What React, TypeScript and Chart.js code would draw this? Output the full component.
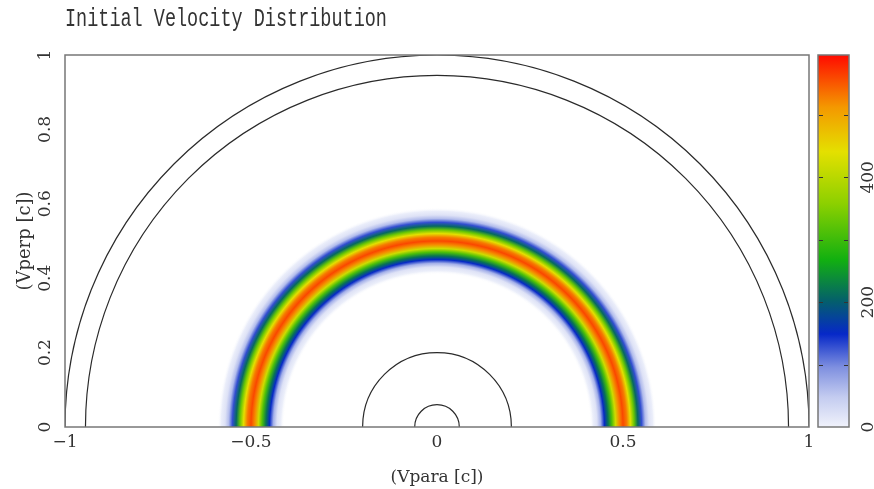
import React, { useEffect, useRef } from 'react';
import { Chart, registerables } from 'chart.js';

Chart.register(...registerables);

const TITLE = 'Initial Velocity Distribution';
const X_LABEL = '(Vpara [c])';
const Y_LABEL = '(Vperp [c])';

// radial profile of the ring (|v| in units of c) and its counts
const ringRadii = [0.41, 0.42, 0.43, 0.44, 0.45, 0.46, 0.47, 0.48, 0.49, 0.50, 0.51, 0.52, 0.53, 0.54, 0.55, 0.56, 0.57, 0.58, 0.59];
const ringCounts = [0, 4, 20, 70, 150, 220, 310, 420, 520, 560, 530, 440, 330, 210, 130, 60, 20, 5, 0];

// reference circles
const circleRadii = [1.0, 0.945, 0.2, 0.06];

const xTicks = [-1, -0.5, 0, 0.5, 1];
const yTicks = [0, 0.2, 0.4, 0.6, 0.8, 1];

const colorbarMax = 596;
const colorbarTicks = [100, 200, 300, 400, 500];
const colorbarLabels = [0, 200, 400];

const cmapPos = [0, 0.08, 0.16, 0.25, 0.34, 0.45, 0.6, 0.74, 0.86, 1];
const cmapColors = ['#f0f2fb', '#c4ccf0', '#7f90e0', '#0628c8', '#04606a', '#12b010', '#8cd000', '#e4e000', '#f49800', '#ff0a00'];

function hexToRgb(h: string) {
  return [parseInt(h.slice(1, 3), 16), parseInt(h.slice(3, 5), 16), parseInt(h.slice(5, 7), 16)];
}

function colorFor(f: number) {
  if (f <= 0) return 'rgba(255,255,255,0)';
  if (f >= 1) return cmapColors[cmapColors.length - 1];
  for (let i = 0; i < cmapPos.length - 1; i++) {
    if (f >= cmapPos[i] && f <= cmapPos[i + 1]) {
      const t = (f - cmapPos[i]) / (cmapPos[i + 1] - cmapPos[i]);
      const a = hexToRgb(cmapColors[i]);
      const b = hexToRgb(cmapColors[i + 1]);
      const c = a.map((v, k) => Math.round(v + (b[k] - v) * t));
      return `rgb(${c[0]},${c[1]},${c[2]})`;
    }
  }
  return cmapColors[0];
}

const fmt = (v: number) => (v < 0 ? '\u2212' + String(-v) : String(v));

const TEXT = '#333';
const LABEL_FONT = "17px 'DejaVu Serif'";

const heatPlugin = {
  id: 'heat',
  beforeDatasetsDraw(chart: any) {
    const { ctx, chartArea, scales } = chart;
    const xs = scales.x;
    const ys = scales.y;
    const cx = xs.getPixelForValue(0);
    const cy = ys.getPixelForValue(0);
    const pr = (r: number) => xs.getPixelForValue(r) - cx;
    ctx.save();
    ctx.beginPath();
    ctx.rect(chartArea.left, chartArea.top, chartArea.right - chartArea.left, chartArea.bottom - chartArea.top);
    ctx.clip();
    const r0 = pr(ringRadii[0]);
    const r1 = pr(ringRadii[ringRadii.length - 1]);
    const g = ctx.createRadialGradient(cx, cy, r0, cx, cy, r1);
    ringRadii.forEach((r, i) => {
      g.addColorStop((pr(r) - r0) / (r1 - r0), colorFor(ringCounts[i] / colorbarMax));
    });
    ctx.fillStyle = g;
    ctx.beginPath();
    ctx.arc(cx, cy, r1, Math.PI, 2 * Math.PI);
    ctx.arc(cx, cy, r0, 2 * Math.PI, Math.PI, true);
    ctx.closePath();
    ctx.fill();

    ctx.strokeStyle = '#2a2a2a';
    ctx.lineWidth = 1.2;
    circleRadii.forEach((r) => {
      ctx.beginPath();
      ctx.arc(cx, cy, pr(r), Math.PI, 2 * Math.PI);
      ctx.stroke();
    });
    ctx.restore();
  },
  afterDraw(chart: any) {
    const { ctx, chartArea, scales } = chart;
    const xs = scales.x;
    const ys = scales.y;
    const cb = scales.cb;
    ctx.save();
    // frame
    ctx.strokeStyle = '#777';
    ctx.lineWidth = 1.5;
    ctx.strokeRect(chartArea.left, chartArea.top, chartArea.right - chartArea.left, chartArea.bottom - chartArea.top);

    // title
    ctx.save();
    ctx.fillStyle = TEXT;
    ctx.font = "18.5px 'Liberation Mono'";
    ctx.textAlign = 'left';
    ctx.textBaseline = 'middle';
    ctx.translate(chartArea.left, 19);
    ctx.scale(1, 1.35);
    ctx.fillText(TITLE, 0, 0);
    ctx.restore();

    ctx.fillStyle = TEXT;
    ctx.font = LABEL_FONT;
    // x tick labels
    ctx.textAlign = 'center';
    ctx.textBaseline = 'middle';
    xTicks.forEach((v) => {
      ctx.fillText(fmt(v), xs.getPixelForValue(v), chartArea.bottom + 16);
    });
    // x axis title
    ctx.fillText(X_LABEL, (chartArea.left + chartArea.right) / 2, chartArea.bottom + 51);

    // y tick labels (rotated)
    yTicks.forEach((v) => {
      ctx.save();
      ctx.translate(chartArea.left - 19, ys.getPixelForValue(v));
      ctx.rotate(-Math.PI / 2);
      ctx.fillText(fmt(v), 0, 0);
      ctx.restore();
    });
    // y axis title
    ctx.save();
    ctx.font = "18px 'DejaVu Serif'";
    ctx.translate(chartArea.left - 40, (chartArea.top + chartArea.bottom) / 2);
    ctx.rotate(-Math.PI / 2);
    ctx.fillText(Y_LABEL, 0, 0);
    ctx.restore();

    // colorbar
    const bl = chartArea.right + 9;
    const bw = 31;
    const bTop = cb.getPixelForValue(colorbarMax);
    const bBot = cb.getPixelForValue(0);
    const lg = ctx.createLinearGradient(0, bBot, 0, bTop);
    cmapPos.forEach((p, i) => lg.addColorStop(p, cmapColors[i]));
    ctx.fillStyle = lg;
    ctx.fillRect(bl, bTop, bw, bBot - bTop);
    ctx.strokeStyle = '#777';
    ctx.lineWidth = 1.5;
    ctx.strokeRect(bl, bTop, bw, bBot - bTop);
    ctx.strokeStyle = '#333';
    ctx.lineWidth = 1;
    colorbarTicks.forEach((v) => {
      const y = Math.round(cb.getPixelForValue(v)) + 0.5;
      ctx.beginPath();
      ctx.moveTo(bl + 1, y);
      ctx.lineTo(bl + 5, y);
      ctx.moveTo(bl + bw - 5, y);
      ctx.lineTo(bl + bw - 1, y);
      ctx.stroke();
    });
    ctx.fillStyle = TEXT;
    ctx.font = LABEL_FONT;
    colorbarLabels.forEach((v) => {
      ctx.save();
      ctx.translate(bl + bw + 20, cb.getPixelForValue(v));
      ctx.rotate(-Math.PI / 2);
      ctx.textAlign = 'center';
      ctx.textBaseline = 'middle';
      ctx.fillText(String(v), 0, 0);
      ctx.restore();
    });
    ctx.restore();
  },
};

export default function App() {
  const ref = useRef<HTMLCanvasElement>(null);
  useEffect(() => {
    const chart = new Chart(ref.current as HTMLCanvasElement, {
      type: 'scatter',
      data: { datasets: [] },
      options: {
        animation: false,
        responsive: true,
        maintainAspectRatio: false,
        events: [],
        layout: { padding: { left: 65, top: 55, right: 65, bottom: 62 } },
        plugins: { legend: { display: false }, tooltip: { enabled: false }, title: { display: false } },
        scales: {
          x: { type: 'linear', min: -1, max: 1, display: false },
          y: { type: 'linear', min: 0, max: 1, display: false },
          cb: { type: 'linear', axis: 'y', position: 'right', min: 0, max: colorbarMax, display: false },
        },
      } as any,
      plugins: [heatPlugin as any],
    });
    return () => chart.destroy();
  }, []);
  return (
    <div style={{ position: 'fixed', left: 0, top: 0, width: 874, height: 489, background: '#fff' }}>
      <canvas ref={ref} />
    </div>
  );
}
